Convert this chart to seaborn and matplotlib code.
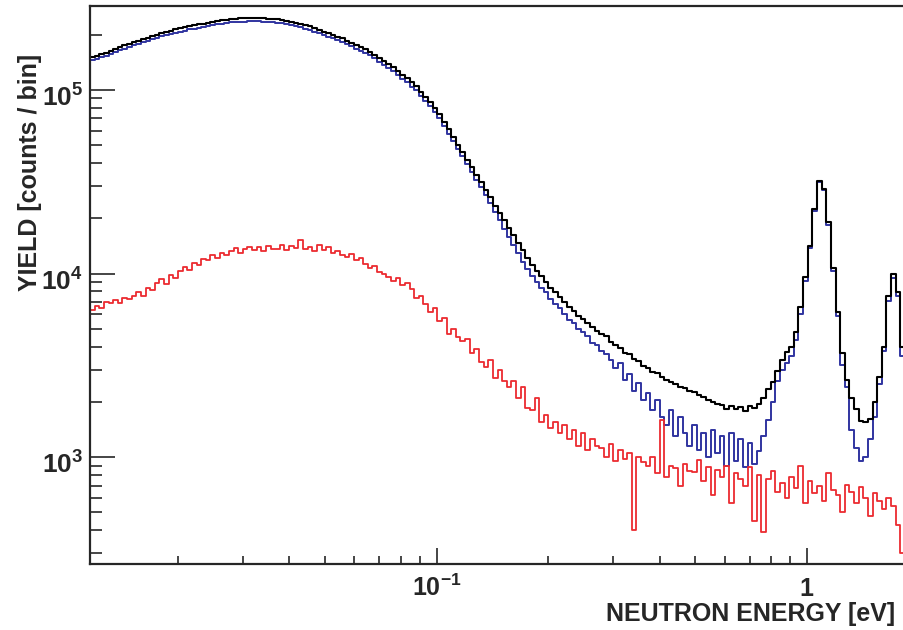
import numpy as np
import pandas as pd
import matplotlib
matplotlib.use("Agg")
import matplotlib.pyplot as plt
from matplotlib.ticker import LogLocator, NullFormatter
from matplotlib.transforms import ScaledTranslation
import seaborn as sns

# binning of the energy axis (log-uniform bins)
e_min, e_max, n_bins = 0.0116, 1.84, 176

# counts per bin
black_counts = [
    150700, 154000, 157000, 160000, 164000, 168000, 172000, 175000, 179000, 182000,
    186000, 190000, 193000, 197000, 200000, 204000, 207000, 210000, 214000, 217000,
    220000, 223000, 225000, 228000, 230000, 233000, 235000, 238000, 240000, 242000,
    244000, 245000, 246000, 246000, 247000, 247000, 247000, 246000, 245000, 244000,
    243000, 241000, 238000, 236000, 233000, 230000, 226000, 222000, 217000, 213000,
    208000, 204000, 200000, 195000, 191000, 186000, 181000, 176000, 172000, 167000,
    162000, 156000, 150000, 144000, 139000, 133000, 127000, 121000, 116000, 110000,
    105000, 98000, 92000, 86000, 80000, 74000, 67000, 61000, 55500, 50500,
    45700, 41500, 38000, 34500, 31500, 28500, 26000, 23500, 21500, 19500,
    17800, 16200, 14700, 13400, 12200, 11200, 10400, 9700, 9000, 8400,
    7940, 7500, 7000, 6600, 6250, 5890, 5650, 5400, 5100, 4900,
    4680, 4550, 4250, 4100, 3950, 3700, 3650, 3420, 3350, 3120,
    3050, 2930, 2880, 2720, 2650, 2560, 2520, 2400, 2380, 2290,
    2260, 2180, 2130, 2040, 2010, 1950, 1930, 1820, 1900, 1830,
    1880, 1790, 1900, 1850, 1950, 2090, 2340, 2570, 2950, 3390,
    3720, 3980, 4790, 6610, 9550, 14100, 22400, 32000, 29000, 19000,
    10700, 6200, 3700, 2630, 2090, 1820, 1580, 1550, 1620, 2000,
    2750, 3980, 7600, 10000, 7900, 4000,
]

blue_counts = [
    145000, 148000, 151000, 154000, 157000, 161000, 165000, 168000, 172000, 175000,
    179000, 182000, 185000, 189000, 192000, 196000, 199000, 202000, 205000, 208000,
    211000, 214000, 216000, 219000, 221000, 224000, 226000, 228000, 230000, 232000,
    234000, 235000, 236000, 236000, 237000, 237000, 237000, 236000, 235000, 234000,
    233000, 231000, 228000, 226000, 223000, 220000, 216000, 212000, 208000, 204000,
    199000, 195000, 191000, 187000, 183000, 178000, 173000, 168000, 164000, 160000,
    155000, 149000, 143000, 137000, 132000, 127000, 121000, 115000, 110000, 104000,
    99500, 93000, 87000, 81500, 75500, 70000, 63500, 57500, 52500, 47800,
    43500, 39500, 36000, 32500, 29500, 26700, 24200, 21600, 19600, 17600,
    15800, 14300, 12900, 11600, 10600, 9700, 9000, 8300, 7900, 7300,
    6800, 6500, 6000, 5600, 5400, 5000, 4800, 4550, 4200, 4100,
    3800, 3650, 3400, 3050, 3250, 2650, 2850, 2300, 2550, 2050,
    2250, 1800, 2050, 1650, 1500, 1800, 1300, 1650, 1350, 1150,
    1500, 1100, 1350, 1000, 1400, 1050, 1300, 900, 1350, 950,
    1250, 880, 1200, 920, 1080, 1300, 1600, 2000, 2600, 3000,
    3250, 3550, 4350, 6000, 9100, 13800, 22000, 31500, 28500, 18500,
    10400, 5900, 3160, 2400, 1410, 1120, 955, 1000, 1260, 1660,
    2500, 3800, 7100, 9500, 7600, 3550,
]

red_counts = [
    6300, 6700, 6500, 7000, 6900, 7200, 6900, 7400, 7300, 7600,
    7900, 7600, 8300, 8100, 8900, 9300, 8800, 9800, 9500, 10400,
    10900, 10500, 11400, 11200, 12000, 11900, 12600, 12200, 13000, 12700,
    13300, 13800, 12900, 13600, 14000, 13400, 13900, 13300, 14200, 13700,
    13600, 14300, 13500, 14100, 13800, 15200, 13700, 14000, 13300, 14400,
    13500, 13900, 12900, 13300, 12700, 12300, 12800, 11900, 12100, 11300,
    10700, 11000, 10200, 10000, 9600, 9100, 9500, 8700, 8900, 8200,
    7400, 7600, 6800, 6200, 6500, 5500, 5700, 4700, 5000, 4500,
    4300, 4400, 3700, 3900, 3300, 3100, 3400, 2700, 3000, 2600,
    2400, 2600, 2100, 2400, 1850, 1800, 2100, 1550, 1700, 1450,
    1550, 1350, 1500, 1250, 1400, 1150, 1350, 1100, 1250, 1150,
    1120, 1000, 1180, 950, 1100, 980, 1050, 400, 1000, 940,
    900, 1000, 820, 1600, 780, 900, 870, 700, 920, 840,
    830, 960, 740, 880, 620, 850, 780, 900, 560, 820,
    760, 700, 880, 450, 800, 390, 760, 840, 650, 720,
    600, 780, 680, 900, 560, 740, 640, 700, 580, 820,
    660, 620, 500, 710, 650, 560, 690, 600, 480, 640,
    580, 520, 600, 540, 430, 300,
]

y_min, y_max = 262, 287000

sns.set_style("ticks")
plt.rcParams["font.family"] = ["Liberation Sans", "DejaVu Sans"]
plt.rcParams["font.weight"] = "bold"
plt.rcParams["mathtext.fontset"] = "custom"
plt.rcParams["mathtext.bf"] = "Liberation Sans:bold"
plt.rcParams["mathtext.rm"] = "Liberation Sans:bold"

edges = np.geomspace(e_min, e_max, n_bins + 1)
centers = np.sqrt(edges[:-1] * edges[1:])
bin_list = [float(e) for e in edges]

fig = plt.figure(figsize=(9.04, 6.3), dpi=100)
ax = fig.add_axes([90 / 904, 66 / 630, 815 / 904, 558 / 630])

series = [(blue_counts, "#3034a0", 1.4), (black_counts, "black", 1.5), (red_counts, "#ec2b30", 1.3)]
for counts, col, lw in series:
    df = pd.DataFrame({"energy": centers, "yield": counts})
    sns.histplot(data=df, x="energy", weights="yield", bins=bin_list, element="step",
                 fill=False, color=col, linewidth=lw, ax=ax)

ax.set_xscale("log")
ax.set_yscale("log")
ax.set_xlim(e_min, e_max)
ax.set_ylim(y_min, y_max)

for s in ax.spines.values():
    s.set_linewidth(1.6)

ax.yaxis.set_minor_locator(LogLocator(base=10, subs=np.arange(2, 10)))
ax.xaxis.set_minor_locator(LogLocator(base=10, subs=np.arange(2, 10)))
ax.yaxis.set_minor_formatter(NullFormatter())
ax.xaxis.set_minor_formatter(NullFormatter())

ax.tick_params(axis="y", which="major", direction="in", length=18, width=1.2, labelsize=19, pad=5)
ax.tick_params(axis="y", which="minor", direction="in", length=8.6, width=1.2)
ax.tick_params(axis="x", which="major", direction="in", length=11.5, width=1.2, labelsize=18, pad=27)
ax.tick_params(axis="x", which="minor", direction="in", length=5.8, width=1.2)

ax.set_yticks([1e3, 1e4, 1e5], labels=[r"$\mathbf{10^{3}}$", r"$\mathbf{10^{4}}$", r"$\mathbf{10^{5}}$"])
ax.set_xticks([0.1, 1], labels=[r"$\mathbf{10^{-1}}$", r"$\mathbf{1}$"])
for lab in ax.get_xticklabels():
    lab.set_verticalalignment("bottom")
# ROOT puts the y labels a little below their ticks
shift = ScaledTranslation(0, -4 / 72, fig.dpi_scale_trans)
for lab in ax.get_yticklabels():
    lab.set_transform(lab.get_transform() + shift)

ax.set_xlabel("")
ax.set_ylabel("")
fig.text(895 / 904, 1 - 614 / 630, "NEUTRON ENERGY [eV]", ha="right", va="center",
         fontsize=18, fontweight="bold")
fig.text(30 / 904, 1 - 172 / 630, "YIELD [counts / bin]", ha="center", va="center",
         rotation=90, fontsize=18, fontweight="bold")

fig.savefig("out.png", dpi=100)
